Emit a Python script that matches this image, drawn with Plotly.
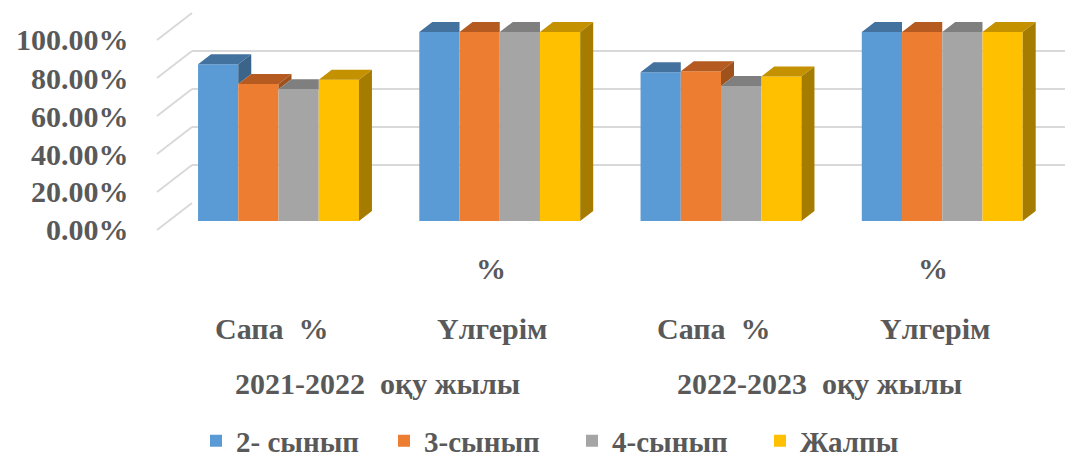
import plotly.graph_objects as go

# ---------------- data ----------------
categories = ["Сапа  %", "Үлгерім %", "Сапа  %", "Үлгерім %"]
years = ["2021-2022  оқу жылы", "2022-2023  оқу жылы"]
series_names = ["2- сынып", "3-сынып", "4-сынып", "Жалпы"]
s_2 = [82.9, 100.0, 78.7, 100.0]
s_3 = [72.5, 100.0, 79.2, 100.0]
s_4 = [69.7, 100.0, 71.4, 100.0]
s_all = [74.8, 100.0, 76.4, 100.0]
y_ticks = [0, 20, 40, 60, 80, 100]
y_tick_labels = [f"{v:.2f}%" for v in y_ticks]

# ---------------- style ----------------
W, H = 1065, 459
front_cols = ["#5B9BD5", "#ED7D31", "#A5A5A5", "#FFC000"]
top_cols = ["#44729F", "#B55B22", "#7F7F7F", "#C49200"]
side_cols = ["#3A6489", "#A0521C", "#6E6E6E", "#A67C00"]
TXT = "#595959"
FONT = "Liberation Serif, Times New Roman, serif"

series = [s_2, s_3, s_4, s_all]
n = len(series)


def px_x(p):
    return p / W


def px_y(p):
    return 1 - p / H


def ydomain(lo, hi, px0, px100):
    per = (px0 - px100) / 100.0
    return [px_y(px0 + (0 - lo) * per), px_y(px0 - hi * per)]


def tfont(size):
    return dict(family=FONT, size=size, color=TXT, weight="bold")


# geometry of the bar subplot
cat_px = 221.25            # pixel width of one category band
x_lo_px, x_hi_px = 278.5 - cat_px / 2, 278.5 + 3.5 * cat_px
bar_y_per = 1.89           # px per percent
bargap = 0.2727
gw = 1 - bargap
bw = gw / n
dx = 13 / cat_px           # depth in x units
dy = 10 / bar_y_per        # depth in y units

fig = go.Figure()

# invisible trace so the back-wall grid subplot (drawn first, below the bars) exists
fig.add_trace(go.Scatter(x=[0.5], y=[50], mode="markers", marker=dict(opacity=0),
                         xaxis="x", yaxis="y", showlegend=False, hoverinfo="skip"))

xs = list(range(len(categories)))
for k, (name, vals) in enumerate(zip(series_names, series)):
    fig.add_trace(go.Bar(
        x=xs, y=vals, name=name, marker=dict(color=front_cols[k], line=dict(width=0)),
        width=bw, offset=-gw / 2 + k * bw, xaxis="x2", yaxis="y2", hoverinfo="skip"))

# 3D top and side faces derived from the values
for k, vals in enumerate(series):
    tx, ty, sx, sy = [], [], [], []
    for i, v in enumerate(vals):
        L = i - gw / 2 + k * bw
        R = L + bw
        nxt = series[k + 1][i] if k + 1 < n else None
        if nxt is not None and nxt >= v:
            tx += [L, R, R, L + dx, L, None]
            ty += [v, v, v + dy, v + dy, v, None]
        else:
            tx += [L, R, R + dx, L + dx, L, None]
            ty += [v, v, v + dy, v + dy, v, None]
            base = 0 if nxt is None else nxt
            sx += [R, R + dx, R + dx, R, R, None]
            sy += [base, base + dy, v + dy, v, base, None]
    fig.add_trace(go.Scatter(x=tx, y=ty, fill="toself", fillcolor=top_cols[k], mode="lines",
                             line=dict(width=0, color=top_cols[k]), xaxis="x2", yaxis="y2",
                             showlegend=False, hoverinfo="skip"))
    if sx:
        fig.add_trace(go.Scatter(x=sx, y=sy, fill="toself", fillcolor=side_cols[k], mode="lines",
                                 line=dict(width=0, color=side_cols[k]), xaxis="x2", yaxis="y2",
                                 showlegend=False, hoverinfo="skip"))

# invisible trace for the side-wall helper subplot
fig.add_trace(go.Scatter(x=[0.5], y=[50], mode="markers", marker=dict(opacity=0),
                         xaxis="x3", yaxis="y3", showlegend=False, hoverinfo="skip"))

annotations = []
# y-axis labels at the front edge
front_shift = -27
for v, lab in zip(y_ticks, y_tick_labels):
    annotations.append(dict(x=px_x(131), xref="paper", xanchor="right", y=v, yref="y3",
                            yshift=front_shift, yanchor="middle", showarrow=False, text=lab,
                            font=tfont(30)))

# category labels
for i, c in enumerate(categories):
    if c.endswith("%") and not c.startswith("Сапа"):
        main, top = c[:-1].strip(), "%"
    else:
        main, top = c, None
    annotations.append(dict(x=i, xref="x2", xshift=-7, y=px_y(328), yref="paper", yanchor="middle",
                            showarrow=False, text=main, font=tfont(30)))
    if top:
        annotations.append(dict(x=i, xref="x2", xshift=-9, y=px_y(268), yref="paper",
                                yanchor="middle", showarrow=False, text=top, font=tfont(30)))
for j, yr in enumerate(years):
    annotations.append(dict(x=2 * j + 0.5, xref="x2", xshift=-12, y=px_y(383), yref="paper",
                            yanchor="middle", showarrow=False, text=yr, font=tfont(30)))

# diagonal side-wall gridlines (front label edge -> back wall)
shapes = []
for v in y_ticks:
    shapes.append(dict(type="line", xref="paper", x0=px_x(157), x1=px_x(192),
                       yref="y3", ysizemode="pixel", yanchor=v, y0=front_shift, y1=0,
                       line=dict(color="#D9D9D9", width=2)))

side_lo, side_hi = -16, 100.5

fig.update_layout(
    width=W, height=H,
    margin=dict(l=0, r=0, t=0, b=0, autoexpand=False),
    paper_bgcolor="white", plot_bgcolor="rgba(0,0,0,0)",
    barmode="group", bargap=bargap, bargroupgap=0,
    showlegend=True,
    legend=dict(orientation="h", x=px_x(196), xanchor="left", y=px_y(441), yanchor="middle",
                font=tfont(29), entrywidth=143, bgcolor="rgba(0,0,0,0)"),
    # back wall gridlines (first subplot -> drawn underneath the bars)
    xaxis=dict(domain=[px_x(192), 1], range=[0, 1], visible=False, fixedrange=True),
    yaxis=dict(domain=ydomain(-0.5, 100.5, 203, 13), range=[-0.5, 100.5],
               tickvals=y_ticks, showgrid=True, gridcolor="#D9D9D9", gridwidth=2,
               zeroline=False, showticklabels=False, ticks="", showline=False, anchor="x"),
    # bars
    xaxis2=dict(domain=[px_x(x_lo_px), px_x(x_hi_px)], range=[-0.5, 3.5], visible=False,
                anchor="y2"),
    yaxis2=dict(domain=ydomain(0, 110, 221, 221 - 100 * bar_y_per), range=[0, 110],
                visible=False, anchor="x2"),
    # helper scale for the side wall (same scale as back wall, taller domain)
    xaxis3=dict(domain=[px_x(157), px_x(192)], range=[0, 1], visible=False, fixedrange=True,
                anchor="y3"),
    yaxis3=dict(domain=ydomain(side_lo, side_hi, 203, 13), range=[side_lo, side_hi],
                showgrid=False, zeroline=False, showticklabels=False, ticks="",
                showline=False, anchor="x3"),
    annotations=annotations,
    shapes=shapes,
)

fig.write_html("out.html", config={"displayModeBar": False},
               post_script="document.body.style.margin='0';")
